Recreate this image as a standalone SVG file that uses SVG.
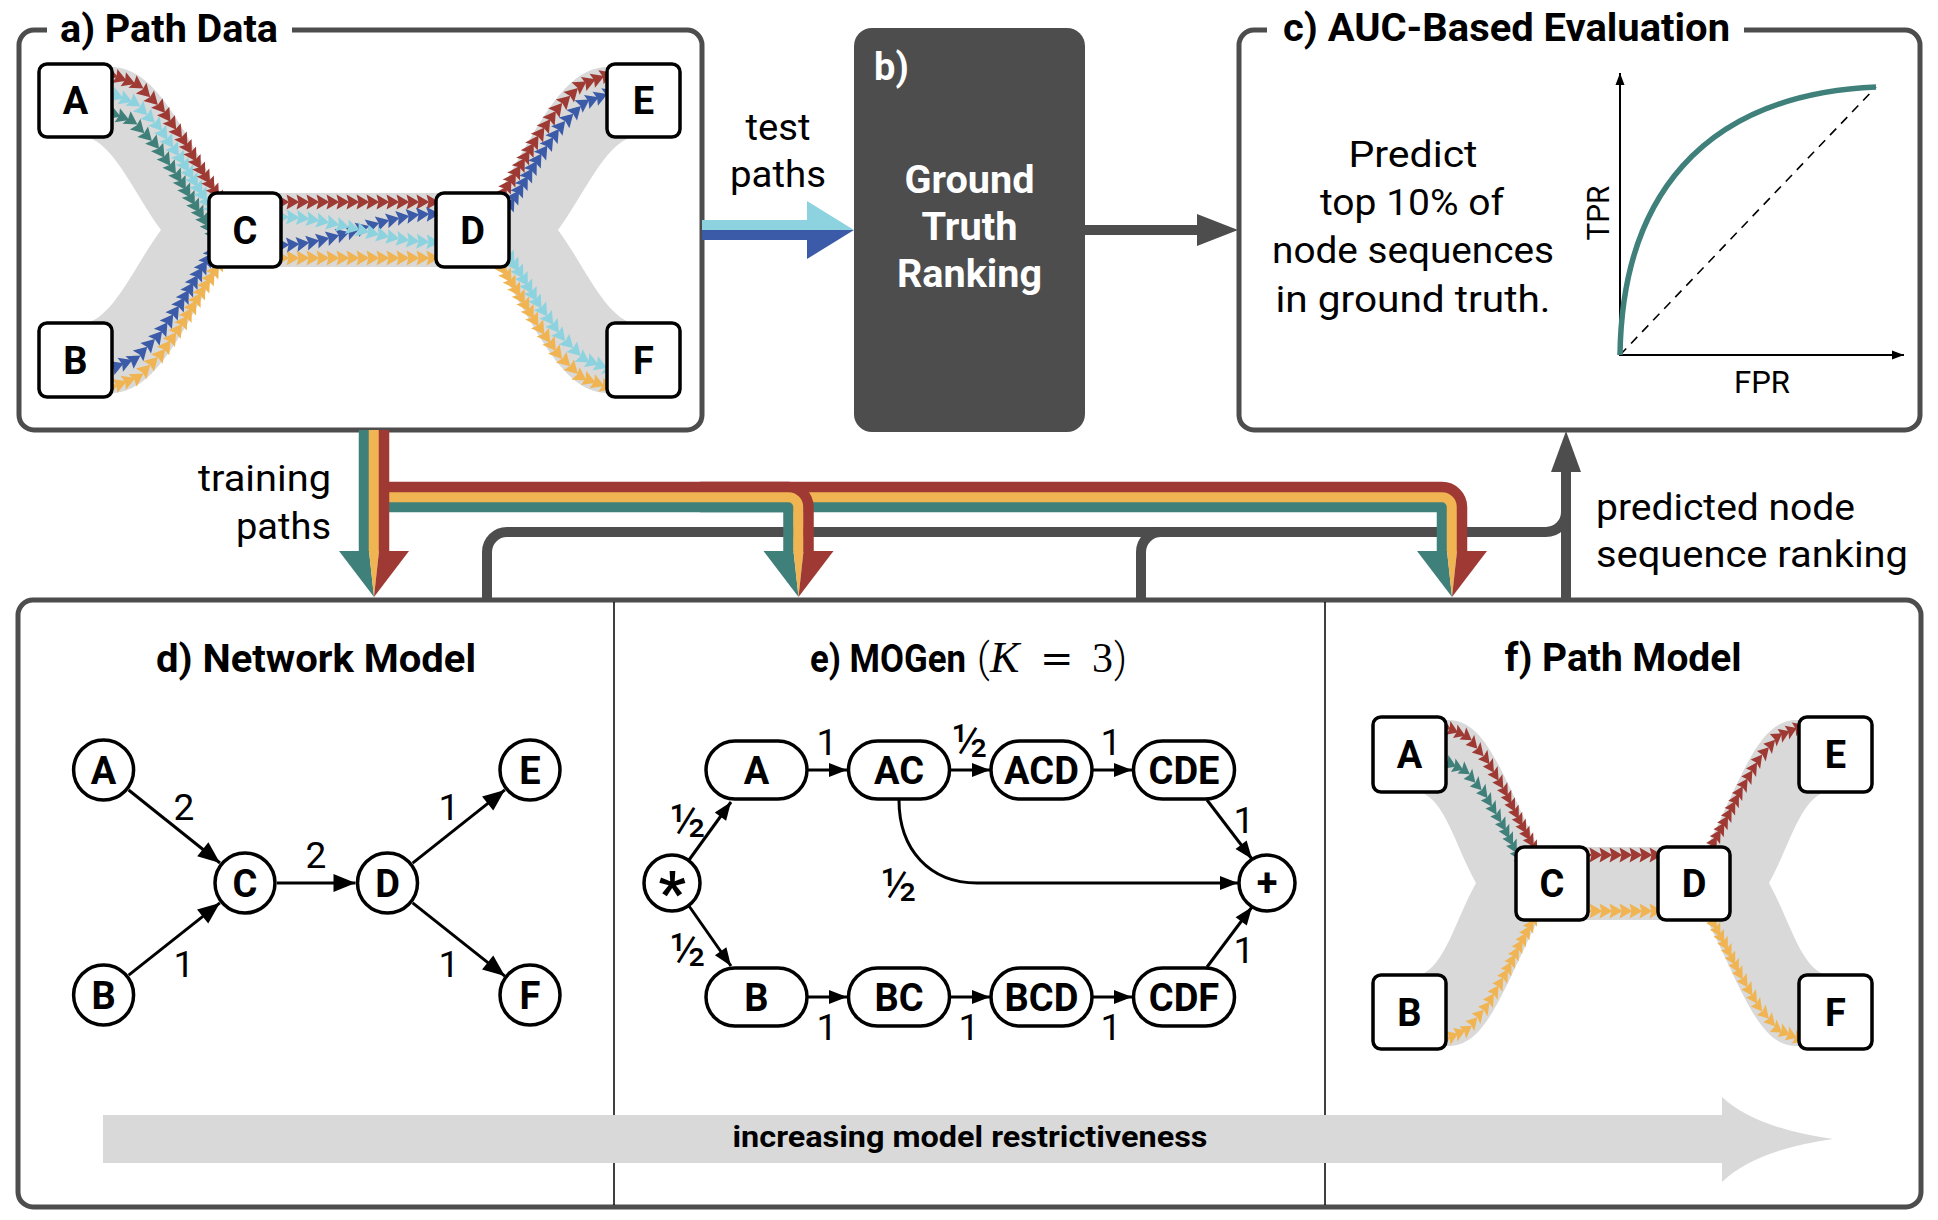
<svg xmlns="http://www.w3.org/2000/svg" xmlns:xlink="http://www.w3.org/1999/xlink" width="1938" height="1220" viewBox="0 0 1938 1220">
<style>
.frm{fill:none;stroke:#4d4d4d;stroke-width:5}
.bx{fill:#fff;stroke:#000;stroke-width:3.5}
.nl{font-family:Roboto,"Liberation Sans",sans-serif;font-weight:700;font-size:38px;text-anchor:middle;fill:#000}
.ttl{font-family:Roboto,"Liberation Sans",sans-serif;font-weight:700;font-size:38px;fill:#000}
.lbl{font-family:Roboto,"Liberation Sans",sans-serif;font-weight:400;font-size:37px;fill:#000}
.num{font-family:Roboto,"Liberation Sans",sans-serif;font-weight:400;font-size:37px;fill:#000;text-anchor:middle}
.frac{font-family:Roboto,"Liberation Sans",sans-serif;font-weight:400;font-size:46px;fill:#000;text-anchor:middle}
.band{fill:#d9d9d9}
.edge{fill:none;stroke:#000;stroke-width:3;marker-end:url(#ah)}
.edge2{fill:none;stroke:#000;stroke-width:3;marker-end:url(#ah2)}
.out{fill:none;stroke:#4d4d4d;stroke-width:10}
.cR{fill:none;stroke:none;marker-start:url(#mR);marker-mid:url(#mR);marker-end:url(#mR)}
.cY{fill:none;stroke:none;marker-start:url(#mY);marker-mid:url(#mY);marker-end:url(#mY)}
.cT{fill:none;stroke:none;marker-start:url(#mT);marker-mid:url(#mT);marker-end:url(#mT)}
.cL{fill:none;stroke:none;marker-start:url(#mL);marker-mid:url(#mL);marker-end:url(#mL)}
.cB{fill:none;stroke:none;marker-start:url(#mB);marker-mid:url(#mB);marker-end:url(#mB)}
.tr{fill:none;stroke:#9e3a33;stroke-width:10.5}
.ty{fill:none;stroke:#f0b452;stroke-width:10.5}
.tt{fill:none;stroke:#40807b;stroke-width:10.5}
</style>
<defs>
<marker id="mR" markerUnits="userSpaceOnUse" markerWidth="16" markerHeight="16" refX="6.5" refY="7.5" orient="auto" overflow="visible"><path d="M0,0 L13,7.5 L0,15 L2,7.5 Z" fill="#9e3a33"/></marker>
<marker id="mY" markerUnits="userSpaceOnUse" markerWidth="16" markerHeight="16" refX="6.5" refY="7.5" orient="auto" overflow="visible"><path d="M0,0 L13,7.5 L0,15 L2,7.5 Z" fill="#f0b452"/></marker>
<marker id="mT" markerUnits="userSpaceOnUse" markerWidth="16" markerHeight="16" refX="6.5" refY="7.5" orient="auto" overflow="visible"><path d="M0,0 L13,7.5 L0,15 L2,7.5 Z" fill="#40807b"/></marker>
<marker id="mL" markerUnits="userSpaceOnUse" markerWidth="16" markerHeight="16" refX="6.5" refY="7.5" orient="auto" overflow="visible"><path d="M0,0 L13,7.5 L0,15 L2,7.5 Z" fill="#8dd3df"/></marker>
<marker id="mB" markerUnits="userSpaceOnUse" markerWidth="16" markerHeight="16" refX="6.5" refY="7.5" orient="auto" overflow="visible"><path d="M0,0 L13,7.5 L0,15 L2,7.5 Z" fill="#3b5ba8"/></marker>
<marker id="ah" markerUnits="userSpaceOnUse" markerWidth="24" markerHeight="18" refX="22" refY="9" orient="auto" overflow="visible"><path d="M0,0 L22,9 L0,18 Z" fill="#000"/></marker>
<marker id="ah2" markerUnits="userSpaceOnUse" markerWidth="20" markerHeight="14" refX="18" refY="7" orient="auto" overflow="visible"><path d="M0,0 L18,7 L0,14 Z" fill="#000"/></marker>
<marker id="ax" markerUnits="userSpaceOnUse" markerWidth="14" markerHeight="10" refX="12" refY="4.5" orient="auto" overflow="visible"><path d="M0,0 L12,4.5 L0,9 Z" fill="#000"/></marker>
<polyline id="s1" fill="none" stroke="none" points="0,0 8.7,3.3 17.3,6.7 26,10 33.7,17.7 41.3,25.3 49,33 54.8,41.3 60.5,49.5 66.3,57.8 72,66 76.5,73.5 81,81 85.5,88.5 90,96 94.5,103 99,110 103.5,117 108,124"/>
<polyline id="s2" fill="none" stroke="none" points="-108,124 -103.5,117 -99,110 -94.5,103 -90,96 -85.5,88.5 -81,81 -76.5,73.5 -72,66 -66.3,57.8 -60.5,49.5 -54.8,41.3 -49,33 -41.3,25.3 -33.7,17.7 -26,10 -17.3,6.7 -8.7,3.3 0,0"/>
</defs>
<rect x="0" y="0" width="1938" height="1220" fill="#fff"/>

<!-- Panel a -->
<g id="panel-a">
<path class="frm" d="M47,30 H34 A15,15 0 0 0 19,45 V415 A15,15 0 0 0 34,430 H687 A15,15 0 0 0 702,415 V45 A15,15 0 0 0 687,30 H292"/>
<text class="ttl" x="60" y="42" textLength="218" lengthAdjust="spacingAndGlyphs">a) Path Data</text>
<path class="band" d="M112,67 C155,68 180,125 220,193 L499,193 C539,125 564,68 607,67 L632,137 C604,145 584,195 558,230 C584,265 604,315 632,323 L607,393 C564,392 539,335 499,267 L220,267 C180,335 155,392 112,393 L87,323 C115,315 135,265 161,230 C135,195 115,145 87,137 Z"/>
<g id="chains-a">
<use href="#s1" class="cT" transform="translate(106,111)"/>
<use href="#s1" class="cL" transform="translate(109,93)"/>
<use href="#s1" class="cR" transform="translate(112,75)"/>
<use href="#s1" class="cB" transform="translate(109,369) scale(1,-1)"/>
<use href="#s1" class="cY" transform="translate(112,387) scale(1,-1)"/>
<polyline class="cR" points="283,202 293,202 303,202 313,202 323,202 333,202 343,202 353,202 363,202 373,202 383,202 393,202 403,202 413,202 423,202 433,202"/>
<polyline class="cY" points="283,258 293,258 303,258 313,258 323,258 333,258 343,258 353,258 363,258 373,258 383,258 393,258 403,258 413,258 423,258 433,258"/>
<polyline class="cB" points="283,245 293,244.6 303,243.5 313,241.8 323,239.6 333,237 343,234.1 353,231.1 363,227.9 373,224.9 383,222 393,219.4 403,217.2 413,215.5 423,214.4 433,214"/>
<polyline class="cL" points="283,217 293,217.3 303,218.2 313,219.6 323,221.4 333,223.5 343,225.8 353,228.3 363,230.8 373,233.2 383,235.5 393,237.6 403,239.4 413,240.8 423,241.7 433,242"/>
<use href="#s2" class="cR" transform="translate(607,75)"/>
<use href="#s2" class="cB" transform="translate(610,93)"/>
<use href="#s2" class="cL" transform="translate(610,369) scale(1,-1)"/>
<use href="#s2" class="cY" transform="translate(607,387) scale(1,-1)"/>
</g>
<g id="a-A"><rect class="bx" x="39" y="64" width="73" height="73" rx="8"/><text class="nl" x="75.5" y="114">A</text></g>
<g id="a-B"><rect class="bx" x="39" y="323" width="73" height="74" rx="8"/><text class="nl" x="75.5" y="373.5">B</text></g>
<g id="a-C"><rect class="bx" x="209" y="193" width="72" height="74" rx="8"/><text class="nl" x="245" y="243.5">C</text></g>
<g id="a-D"><rect class="bx" x="436" y="193" width="73" height="74" rx="8"/><text class="nl" x="472.5" y="243.5">D</text></g>
<g id="a-E"><rect class="bx" x="607" y="64" width="73" height="73" rx="8"/><text class="nl" x="643.5" y="114">E</text></g>
<g id="a-F"><rect class="bx" x="607" y="323" width="73" height="74" rx="8"/><text class="nl" x="643.5" y="373.5">F</text></g>
</g>

<!-- Panel b -->
<g id="panel-b">
<rect x="854" y="28" width="231" height="404" rx="18" fill="#4d4d4d"/>
<text class="ttl" x="874" y="80" style="fill:#fff">b)</text>
<text class="nl" x="969.5" y="193" style="fill:#fff" textLength="130" lengthAdjust="spacingAndGlyphs">Ground</text>
<text class="nl" x="969.5" y="240" style="fill:#fff" textLength="96" lengthAdjust="spacingAndGlyphs">Truth</text>
<text class="nl" x="969.5" y="287" style="fill:#fff" textLength="145" lengthAdjust="spacingAndGlyphs">Ranking</text>
</g>

<!-- Panel c -->
<g id="panel-c">
<path class="frm" d="M1267,30 H1254 A15,15 0 0 0 1239,45 V415 A15,15 0 0 0 1254,430 H1905 A15,15 0 0 0 1920,415 V45 A15,15 0 0 0 1905,30 H1744"/>
<text class="ttl" x="1283" y="41" textLength="447" lengthAdjust="spacingAndGlyphs">c) AUC-Based Evaluation</text>
<text class="lbl" x="1413" y="167" text-anchor="middle" textLength="129" lengthAdjust="spacingAndGlyphs">Predict</text>
<text class="lbl" x="1412" y="215" text-anchor="middle" textLength="184" lengthAdjust="spacingAndGlyphs">top 10% of</text>
<text class="lbl" x="1413" y="263" text-anchor="middle" textLength="282" lengthAdjust="spacingAndGlyphs">node sequences</text>
<text class="lbl" x="1413" y="312" text-anchor="middle" textLength="275" lengthAdjust="spacingAndGlyphs">in ground truth.</text>
<line x1="1620" y1="356" x2="1620" y2="73" stroke="#000" stroke-width="2" marker-end="url(#ax)"/>
<line x1="1619" y1="355" x2="1904" y2="355" stroke="#000" stroke-width="2" marker-end="url(#ax)"/>
<line x1="1620" y1="355" x2="1876" y2="87" stroke="#000" stroke-width="1.6" stroke-dasharray="9,7"/>
<path d="M1620,355 C1622,200 1700,95 1876,87" fill="none" stroke="#40807b" stroke-width="5.5"/>
<text class="lbl" x="1609" y="213" text-anchor="middle" transform="rotate(-90 1609 213)" style="font-size:32px" textLength="55" lengthAdjust="spacingAndGlyphs">TPR</text>
<text class="lbl" x="1762" y="393" text-anchor="middle" style="font-size:32px" textLength="56" lengthAdjust="spacingAndGlyphs">FPR</text>
</g>

<!-- Bottom frame with d, e, f -->
<g id="panel-bottom">
<rect class="frm" x="18" y="600" width="1903" height="607" rx="15"/>
<line x1="614" y1="602" x2="614" y2="1205" stroke="#000" stroke-width="1.5"/>
<line x1="1325" y1="602" x2="1325" y2="1205" stroke="#000" stroke-width="1.5"/>
<path d="M103,1115 H1722 V1097 Q1755,1128 1833,1139 Q1755,1150 1722,1182 V1163 H103 Z" fill="#d9d9d9"/>
<text class="ttl" x="970" y="1147" text-anchor="middle" style="font-size:30px" textLength="475" lengthAdjust="spacingAndGlyphs">increasing model restrictiveness</text>
</g>

<!-- Panel d -->
<g id="panel-d">
<text class="ttl" x="316" y="672" text-anchor="middle" textLength="320" lengthAdjust="spacingAndGlyphs">d) Network Model</text>
<g id="d-edges">
<line class="edge" x1="128.6" y1="790" x2="220" y2="863"/>
<line class="edge" x1="128.7" y1="975.1" x2="219.9" y2="902.9"/>
<line class="edge" x1="277" y1="883" x2="355.5" y2="883"/>
<line class="edge" x1="412.6" y1="863.1" x2="504.9" y2="789.9"/>
<line class="edge" x1="412.6" y1="902.9" x2="504.9" y2="976.1"/>
<text class="num" x="184" y="820">2</text>
<text class="num" x="316" y="868">2</text>
<text class="num" x="184" y="977">1</text>
<text class="num" x="449" y="820">1</text>
<text class="num" x="449" y="977">1</text>
</g>
<g id="d-A"><circle class="bx" cx="103.6" cy="770" r="30"/><text class="nl" x="103.6" y="783.5">A</text></g>
<g id="d-B"><circle class="bx" cx="103.6" cy="995" r="30"/><text class="nl" x="103.6" y="1008.5">B</text></g>
<g id="d-C"><circle class="bx" cx="245" cy="883" r="30"/><text class="nl" x="245" y="896.5">C</text></g>
<g id="d-D"><circle class="bx" cx="387.5" cy="883" r="30"/><text class="nl" x="387.5" y="896.5">D</text></g>
<g id="d-E"><circle class="bx" cx="530" cy="770" r="30"/><text class="nl" x="530" y="783.5">E</text></g>
<g id="d-F"><circle class="bx" cx="530" cy="995" r="30"/><text class="nl" x="530" y="1008.5">F</text></g>
</g>

<!-- Panel e -->
<g id="panel-e">
<text class="ttl" x="810" y="672" textLength="156" lengthAdjust="spacingAndGlyphs">e) MOGen</text>
<text y="672"><tspan x="977" style="font-family:Roboto,'Liberation Sans',sans-serif;font-weight:300;font-size:40px">(</tspan><tspan x="990" style="font-family:'Liberation Serif','DejaVu Serif',serif;font-style:italic;font-size:44px">K</tspan><tspan x="1040" style="font-family:'DejaVu Serif','Liberation Serif',serif;font-size:40px">=</tspan><tspan x="1092" style="font-family:'Liberation Serif','DejaVu Serif',serif;font-size:42px">3</tspan><tspan x="1114" style="font-family:Roboto,'Liberation Sans',sans-serif;font-weight:300;font-size:40px">)</tspan></text>
<g id="e-edges">
<line class="edge2" x1="807" y1="770" x2="847" y2="770"/>
<line class="edge2" x1="950" y1="770" x2="990" y2="770"/>
<line class="edge2" x1="1092" y1="770" x2="1132" y2="770"/>
<line class="edge2" x1="807" y1="997" x2="847" y2="997"/>
<line class="edge2" x1="950" y1="997" x2="990" y2="997"/>
<line class="edge2" x1="1092" y1="997" x2="1132" y2="997"/>
<line class="edge2" x1="689" y1="860" x2="731" y2="802"/>
<line class="edge2" x1="689" y1="906" x2="731" y2="966"/>
<line class="edge2" x1="1207" y1="800" x2="1252" y2="859"/>
<line class="edge2" x1="1207" y1="967" x2="1252" y2="907"/>
<path class="edge2" d="M899,800 C899,850 930,883 977,883 L1238,883"/>
<text class="num" x="827" y="755">1</text>
<text class="frac" x="970" y="757">½</text>
<text class="num" x="1111" y="755">1</text>
<text class="frac" x="688" y="837">½</text>
<text class="frac" x="688" y="966">½</text>
<text class="frac" x="899" y="901">½</text>
<text class="num" x="1244" y="833">1</text>
<text class="num" x="1244" y="963">1</text>
<text class="num" x="827" y="1040">1</text>
<text class="num" x="969" y="1040">1</text>
<text class="num" x="1111" y="1040">1</text>
</g>
<g id="e-start"><circle class="bx" cx="672" cy="883" r="28"/><text class="nl" x="672" y="913" style="font-size:60px">*</text></g>
<g id="e-end"><circle class="bx" cx="1267" cy="883" r="28"/><text class="nl" x="1267" y="896">+</text></g>
<g id="e-A"><rect class="bx" x="706" y="741" width="101" height="58" rx="29"/><text class="nl" x="756.5" y="783.5">A</text></g>
<g id="e-AC"><rect class="bx" x="848.5" y="741" width="101" height="58" rx="29"/><text class="nl" x="899" y="783.5">AC</text></g>
<g id="e-ACD"><rect class="bx" x="991" y="741" width="101" height="58" rx="29"/><text class="nl" x="1041.5" y="783.5">ACD</text></g>
<g id="e-CDE"><rect class="bx" x="1133.5" y="741" width="101" height="58" rx="29"/><text class="nl" x="1184" y="783.5">CDE</text></g>
<g id="e-B"><rect class="bx" x="706" y="968" width="101" height="58" rx="29"/><text class="nl" x="756.5" y="1010.5">B</text></g>
<g id="e-BC"><rect class="bx" x="848.5" y="968" width="101" height="58" rx="29"/><text class="nl" x="899" y="1010.5">BC</text></g>
<g id="e-BCD"><rect class="bx" x="991" y="968" width="101" height="58" rx="29"/><text class="nl" x="1041.5" y="1010.5">BCD</text></g>
<g id="e-CDF"><rect class="bx" x="1133.5" y="968" width="101" height="58" rx="29"/><text class="nl" x="1184" y="1010.5">CDF</text></g>
</g>

<!-- Panel f -->
<g id="panel-f">
<text class="ttl" x="1623" y="671" text-anchor="middle" textLength="237" lengthAdjust="spacingAndGlyphs">f) Path Model</text>
<path class="band" d="M1446,720 C1485,718 1500,770 1538,847 L1707,847 C1745,770 1760,718 1799,720 L1825,792 C1800,800 1790,845 1769,883 C1790,921 1800,966 1825,975 L1799,1046 C1760,1048 1745,996 1707,920 L1538,920 C1500,996 1485,1048 1446,1046 L1420,975 C1445,966 1455,921 1476,883 C1455,845 1445,800 1420,792 Z"/>
<g id="chains-f">
<use href="#s1" class="cT" transform="translate(1444,761) scale(0.82,0.98)"/>
<use href="#s1" class="cR" transform="translate(1446,727) scale(0.82,0.98)"/>
<use href="#s1" class="cY" transform="translate(1446,1039) scale(0.82,-0.98)"/>
<polyline class="cR" points="1586,855 1596,855 1606,855 1616,855 1626,855 1636,855 1646,855 1656,855"/>
<polyline class="cY" points="1586,911 1596,911 1606,911 1616,911 1626,911 1636,911 1646,911 1656,911"/>
<use href="#s2" class="cR" transform="translate(1799,727) scale(0.82,0.98)"/>
<use href="#s2" class="cY" transform="translate(1799,1039) scale(0.82,-0.98)"/>
</g>
<g id="f-A"><rect class="bx" x="1373" y="717" width="73" height="75" rx="8"/><text class="nl" x="1409.5" y="768">A</text></g>
<g id="f-B"><rect class="bx" x="1373" y="975" width="73" height="74" rx="8"/><text class="nl" x="1409.5" y="1025.5">B</text></g>
<g id="f-C"><rect class="bx" x="1516" y="847" width="72" height="73" rx="8"/><text class="nl" x="1552" y="897">C</text></g>
<g id="f-D"><rect class="bx" x="1658" y="847" width="72" height="73" rx="8"/><text class="nl" x="1694" y="897">D</text></g>
<g id="f-E"><rect class="bx" x="1799" y="717" width="73" height="75" rx="8"/><text class="nl" x="1835.5" y="768">E</text></g>
<g id="f-F"><rect class="bx" x="1799" y="975" width="73" height="74" rx="8"/><text class="nl" x="1835.5" y="1025.5">F</text></g>
</g>

<!-- Connectors -->
<g id="connectors">
<g id="test-paths">
<rect x="702" y="220" width="106" height="10" fill="#8dd3df"/>
<rect x="702" y="230" width="106" height="10" fill="#3b5ba8"/>
<polygon points="807,201 854,230 807,230" fill="#8dd3df"/>
<polygon points="807,230 854,230 807,259" fill="#3b5ba8"/>
<text class="lbl" x="778" y="140" text-anchor="middle" textLength="65" lengthAdjust="spacingAndGlyphs">test</text>
<text class="lbl" x="778" y="187" text-anchor="middle" textLength="96" lengthAdjust="spacingAndGlyphs">paths</text>
</g>
<g id="b-to-c">
<path class="out" d="M1085,230 H1200"/>
<polygon points="1197,214 1238,230 1197,246" fill="#4d4d4d"/>
</g>
<g id="predicted">
<path class="out" d="M487,600 V552 A20,20 0 0 1 507,532 H1546 A20,20 0 0 0 1566,512 V470"/>
<path class="out" d="M1141,600 V552 A20,20 0 0 1 1161,532 H1200"/>
<path class="out" d="M1566,600 V512"/>
<polygon points="1551,472 1566,431 1581,472" fill="#4d4d4d"/>
<text class="lbl" x="1596" y="520" textLength="259" lengthAdjust="spacingAndGlyphs">predicted node</text>
<text class="lbl" x="1596" y="567" textLength="312" lengthAdjust="spacingAndGlyphs">sequence ranking</text>
</g>
<g id="training">
<path class="tt" d="M389,507 H1442 V552"/>
<path class="ty" d="M389,497 H1442 A10,10 0 0 1 1452,507 V552"/>
<path class="tr" d="M383,487 H1442 A20,20 0 0 1 1462,507 V552"/>
<path class="tt" d="M700,507 H788.5 V552"/>
<path class="ty" d="M700,497 H788.5 A10,10 0 0 1 798.5,507 V552"/>
<path class="tr" d="M700,487 H788.5 A20,20 0 0 1 808.5,507 V552"/>
<path class="tt" d="M364,430 V552"/>
<path class="ty" d="M374,430 V552"/>
<path class="tr" d="M384,430 V552"/>
<polygon points="339,551 369,551 374,597" fill="#40807b"/>
<polygon points="369,551 379,551 374,597" fill="#f0b452"/>
<polygon points="379,551 409,551 374,597" fill="#9e3a33"/>
<polygon points="763.5,551 793.5,551 798.5,597" fill="#40807b"/>
<polygon points="793.5,551 803.5,551 798.5,597" fill="#f0b452"/>
<polygon points="803.5,551 833.5,551 798.5,597" fill="#9e3a33"/>
<polygon points="1417,551 1447,551 1452,597" fill="#40807b"/>
<polygon points="1447,551 1457,551 1452,597" fill="#f0b452"/>
<polygon points="1457,551 1487,551 1452,597" fill="#9e3a33"/>
<text class="lbl" x="331" y="491" text-anchor="end" textLength="133" lengthAdjust="spacingAndGlyphs">training</text>
<text class="lbl" x="331" y="539" text-anchor="end" textLength="95" lengthAdjust="spacingAndGlyphs">paths</text>
</g>
</g>
</svg>
